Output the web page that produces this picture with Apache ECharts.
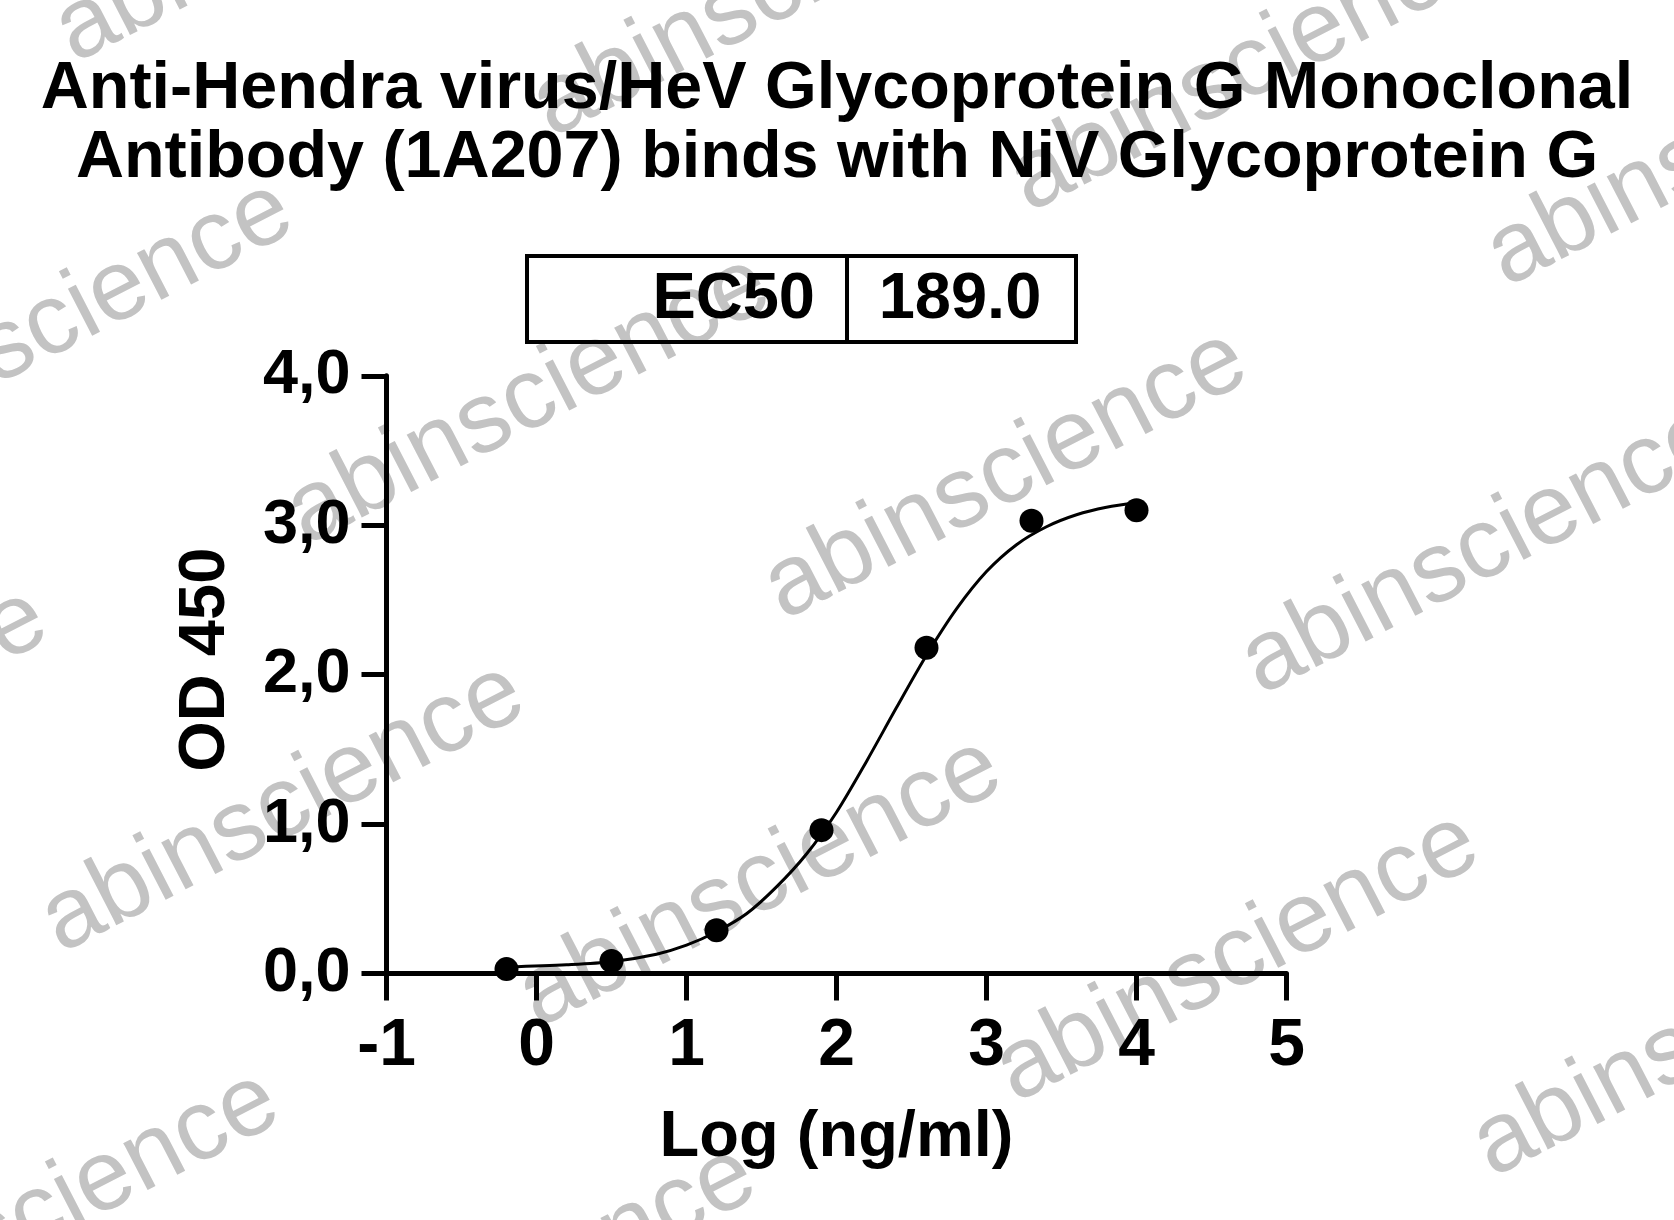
<!DOCTYPE html>
<html>
<head>
<meta charset="utf-8">
<script src="https://cdn.jsdelivr.net/npm/echarts@6/dist/echarts.min.js"></script>
<style>
html,body{margin:0;padding:0;background:#fff;}
#chart{width:1674px;height:1220px;}
</style>
</head>
<body>
<div id="chart"></div>
<script>
// ---- data ----
const titleText = 'Anti-Hendra virus/HeV Glycoprotein G Monoclonal\nAntibody (1A207) binds with NiV Glycoprotein G';
const xAxisName = 'Log (ng/ml)';
const yAxisName = 'OD 450';
const ec50Label = 'EC50';
const ec50Value = '189.0';
const watermarkText = 'abinscience';

// measured points
const doseLog = [-0.2, 0.5, 1.2, 1.9, 2.6, 3.3, 4.0];
const od450   = [0.03, 0.085, 0.29, 0.96, 2.18, 3.03, 3.10];

// fitted curve
const fitLog = [-0.2, 0.2, 0.5, 0.8, 1.0, 1.2, 1.4, 1.6, 1.8, 2.0, 2.2, 2.4, 2.6, 2.8, 3.0, 3.2, 3.4, 3.6, 3.8, 4.0];
const fitOD  = [0.045, 0.06, 0.08, 0.13, 0.19, 0.28, 0.40, 0.58, 0.80, 1.08, 1.42, 1.78, 2.13, 2.44, 2.69, 2.87, 2.99, 3.07, 3.12, 3.15];

// axis ranges
const xMin = -1, xMax = 5, xStep = 1;
const yMin = 0, yMax = 4, yStep = 1;

// ---- chart ----
const FONT = '"Liberation Sans", Arial, Helvetica, sans-serif';
const chart = echarts.init(document.getElementById('chart'), null, {renderer: 'canvas'});

// watermark lattice (decoration only)
const wm = [];
const O = [1005.7, 475.1], A = [477.2, 74.7], B = [-245.5, 407.8];
for (let i = -4; i <= 4; i++) {
  for (let j = -3; j <= 3; j++) {
    const cx = O[0] + i * A[0] + j * B[0];
    const cy = O[1] + i * A[1] + j * B[1];
    if (cx < -450 || cx > 2150 || cy < -300 || cy > 1500) continue;
    wm.push({
      type: 'text', x: cx, y: cy, rotation: 27.3 * Math.PI / 180, z: -10, silent: true,
      style: {text: watermarkText, font: '100px ' + FONT, fill: '#c3c3c3', align: 'center', verticalAlign: 'middle'}
    });
  }
}

const box = [
  {type: 'rect', z: 5, shape: {x: 527, y: 256, width: 549, height: 86}, style: {fill: 'none', stroke: '#000', lineWidth: 4}},
  {type: 'line', z: 5, shape: {x1: 847, y1: 256, x2: 847, y2: 342}, style: {stroke: '#000', lineWidth: 4}},
  {type: 'text', z: 5, x: 815, y: 300, style: {text: ec50Label, font: 'bold 65px ' + FONT, fill: '#000', align: 'right', verticalAlign: 'middle'}},
  {type: 'text', z: 5, x: 960, y: 300, style: {text: ec50Value, font: 'bold 65px ' + FONT, fill: '#000', align: 'center', verticalAlign: 'middle'}}
];

const option = {
  backgroundColor: '#fff',
  animation: false,
  title: {
    text: titleText,
    left: 837, top: 55, textAlign: 'center', padding: 0,
    textStyle: {fontFamily: FONT, fontSize: 66.5, fontWeight: 'bold', lineHeight: 69, color: '#000'}
  },
  graphic: {elements: wm.concat(box)},
  grid: {left: 386.5, right: 387.5, top: 375.8, bottom: 246.4, containLabel: false},
  xAxis: {
    type: 'value', min: xMin, max: xMax, interval: xStep,
    name: xAxisName, nameLocation: 'middle', nameGap: 132,
    nameTextStyle: {fontFamily: FONT, fontSize: 65, fontWeight: 'bold', color: '#000'},
    axisLine: {onZero: true, lineStyle: {color: '#000', width: 5}},
    axisTick: {show: true, length: 27, lineStyle: {color: '#000', width: 5}},
    axisLabel: {margin: 40, fontFamily: FONT, fontSize: 66, fontWeight: 'bold', color: '#000'},
    splitLine: {show: false}
  },
  yAxis: {
    type: 'value', min: yMin, max: yMax, interval: yStep,
    name: yAxisName, nameLocation: 'middle', nameGap: 148, nameRotate: 90,
    nameTextStyle: {fontFamily: FONT, fontSize: 65, fontWeight: 'bold', color: '#000', padding: [0, 0, 0, 30]},
    axisLine: {show: true, onZero: false, lineStyle: {color: '#000', width: 5}},
    axisTick: {show: true, length: 25, lineStyle: {color: '#000', width: 5}},
    axisLabel: {margin: 36, fontFamily: FONT, fontSize: 63, fontWeight: 'bold', color: '#000',
      formatter: v => v.toFixed(1).replace('.', ',')},
    splitLine: {show: false}
  },
  series: [
    {
      type: 'line', name: 'fit', data: fitLog.map((x, i) => [x, fitOD[i]]),
      smooth: 0.3, showSymbol: false, symbol: 'none',
      lineStyle: {color: '#000', width: 3}, z: 3
    },
    {
      type: 'scatter', name: 'OD', data: doseLog.map((x, i) => [x, od450[i]]),
      symbol: 'circle', symbolSize: 24, itemStyle: {color: '#000', opacity: 1}, z: 4
    }
  ]
};
chart.setOption(option);
</script>
</body>
</html>
